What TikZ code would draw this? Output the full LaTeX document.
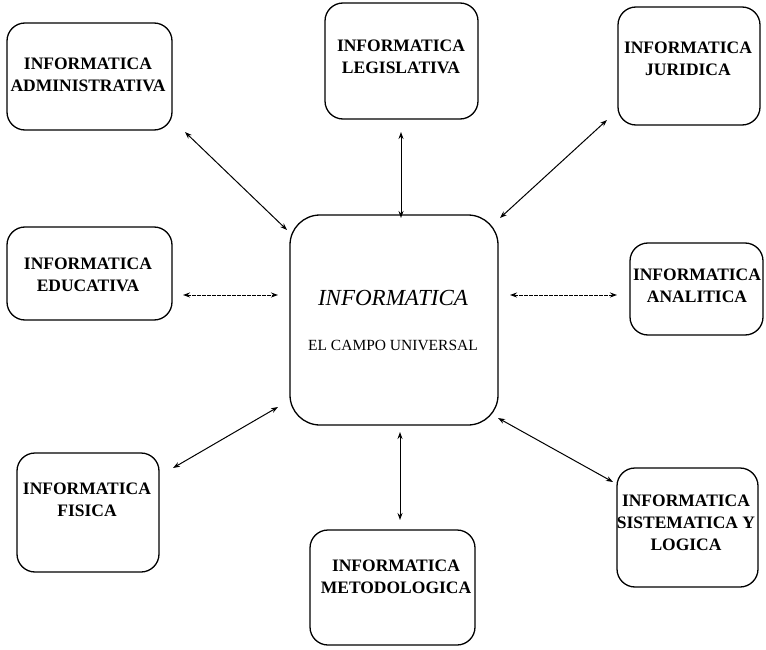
\documentclass[tikz,border=0pt]{standalone}
\usepackage{fontspec}
\setmainfont{Liberation Serif}
\usetikzlibrary{arrows.meta}
\begin{document}
\begin{tikzpicture}[x=1pt,y=-1pt,
  box/.style={draw=black, line width=1.3pt, rounded corners=18pt, inner sep=0pt},
  lbl/.style={align=center, font=\fontsize{17.5}{22}\selectfont\bfseries, inner sep=0pt},
  link/.style={line width=1pt, {Stealth[length=7pt,width=5pt]}-{Stealth[length=7pt,width=5pt]}},
  finelink/.style={link, dash pattern=on 4pt off 1pt}]
\useasboundingbox (0,0) rectangle (766,650);
% boxes
\node[box, minimum width=165pt, minimum height=107pt] (adm) at (89.5,76.5) {};
\node[box, minimum width=153pt, minimum height=116pt] (leg) at (401.5,61) {};
\node[box, minimum width=142pt, minimum height=118pt] (jur) at (689,66) {};
\node[box, minimum width=165pt, minimum height=93pt] (edu) at (89.5,273.5) {};
\node[box, rounded corners=30pt, minimum width=208pt, minimum height=210pt] (ctr) at (394,320) {};
\node[box, minimum width=133pt, minimum height=92pt] (ana) at (696.5,289) {};
\node[box, minimum width=142pt, minimum height=119pt] (fis) at (88,512.5) {};
\node[box, minimum width=165pt, minimum height=115pt] (met) at (392.5,587.5) {};
\node[box, minimum width=141pt, minimum height=119pt] (sis) at (687.5,527.5) {};
% labels
\node[lbl] (admT) at (88,75) {INFORMATICA\\ADMINISTRATIVA};
\node[lbl] (legT) at (401,57) {INFORMATICA\\LEGISLATIVA};
\node[lbl] (jurT) at (688,59) {INFORMATICA\\JURIDICA};
\node[lbl] (eduT) at (88,275) {INFORMATICA\\EDUCATIVA};
\node[lbl] (anaT) at (697,286) {INFORMATICA\\ANALITICA};
\node[lbl] (fisT) at (87,500) {INFORMATICA\\FISICA};
\node[lbl] (metT) at (396,577) {INFORMATICA\\METODOLOGICA};
\node[lbl] (sisT) at (686,523) {INFORMATICA\\SISTEMATICA Y\\LOGICA};
\node[inner sep=0pt, font=\fontsize{23}{26}\selectfont\itshape] (ctrT) at (393,298) {INFORMATICA};
\node[inner sep=0pt, font=\fontsize{15.5}{18}\selectfont] (ctrS) at (393,345) {EL CAMPO UNIVERSAL};
% arrow end points
\coordinate (a1) at (185,132);  \coordinate (a2) at (287,230);
\coordinate (b1) at (401,132);  \coordinate (b2) at (401,218);
\coordinate (c1) at (607,120);  \coordinate (c2) at (500,218);
\coordinate (d1) at (183,295);  \coordinate (d2) at (278,295);
\coordinate (e1) at (510,295);  \coordinate (e2) at (617,295);
\coordinate (f1) at (173,468);  \coordinate (f2) at (278,407);
\coordinate (g1) at (400,432);  \coordinate (g2) at (400,520);
\coordinate (h1) at (498,418);  \coordinate (h2) at (613,482);
% connectors
\draw[link] (a1) -- (a2);
\draw[link] (b1) -- (b2);
\draw[link] (c1) -- (c2);
\draw[finelink] (d1) -- (d2);
\draw[finelink] (e1) -- (e2);
\draw[link] (f1) -- (f2);
\draw[link] (g1) -- (g2);
\draw[link] (h1) -- (h2);
\end{tikzpicture}
\end{document}
